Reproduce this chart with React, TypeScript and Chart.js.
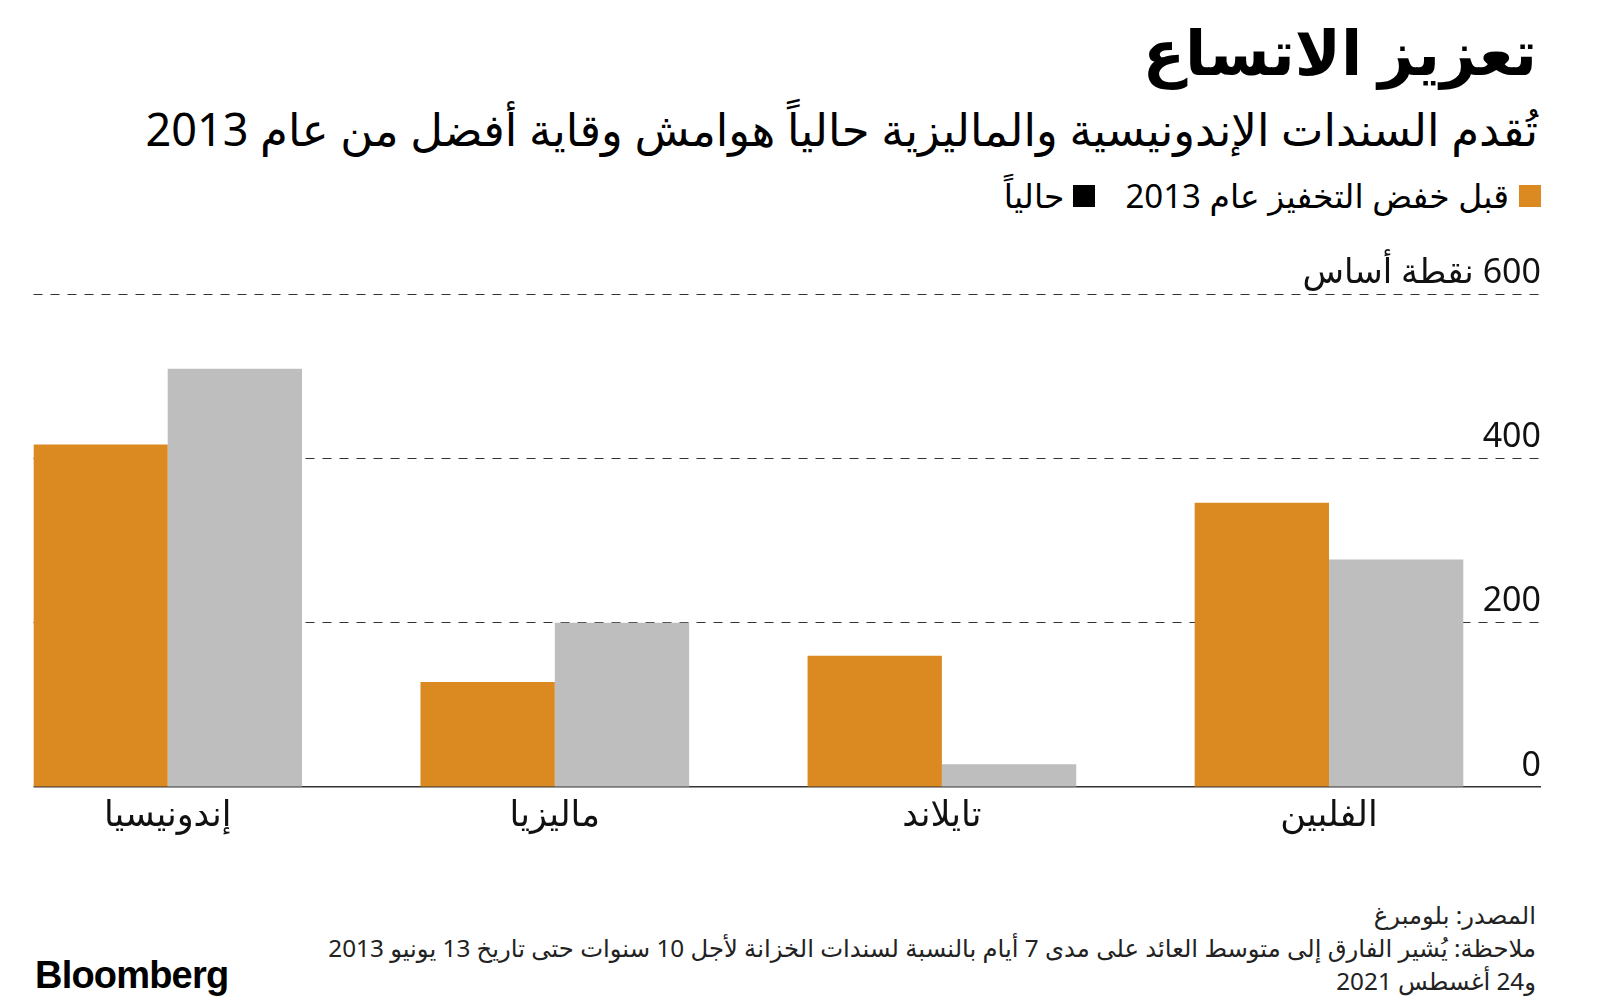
import React, { useEffect, useRef } from "react";
import { Chart, registerables } from "chart.js";

Chart.register(...registerables);

const categories = ["إندونيسيا", "ماليزيا", "تايلاند", "الفلبين"];
const before2013 = [417, 128, 160, 346];
const current = [509, 200, 28, 277];
const yTicks = [0, 200, 400, 600];
const yUnitLabel = "نقطة أساس";
const seriesLabels = ["قبل خفض التخفيز عام 2013", "حالياً"];
const title = "تعزيز الاتساع";
const subtitle = "تُقدم السندات الإندونيسية والماليزية حالياً هوامش وقاية أفضل من عام 2013";
const sourceText = "المصدر: بلومبرغ";
const noteLines = [
  "ملاحظة: يُشير الفارق إلى متوسط العائد على مدى 7 أيام بالنسبة لسندات الخزانة لأجل 10 سنوات حتى تاريخ 13 يونيو 2013",
  "و24 أغسطس 2021",
];

const ORANGE = "#DB8A22";
const GRAY = "#BEBEBE";
const FONT = "'Noto Sans', 'DejaVu Sans', sans-serif";

export default function App() {
  const ref = useRef<HTMLCanvasElement>(null);

  useEffect(() => {
    const canvas = ref.current;
    if (!canvas) return;
    const chart = new Chart(canvas, {
      type: "bar",
      data: {
        datasets: [
          {
            label: seriesLabels[0],
            data: before2013.map((v, i) => ({ x: i, y: v })),
            backgroundColor: ORANGE,
            categoryPercentage: 0.694,
            barPercentage: 1.0,
            borderWidth: 0,
          },
          {
            label: seriesLabels[1],
            data: current.map((v, i) => ({ x: i, y: v })),
            backgroundColor: GRAY,
            categoryPercentage: 0.694,
            barPercentage: 1.0,
            borderWidth: 0,
          },
        ],
      },
      options: {
        animation: false,
        responsive: false,
        maintainAspectRatio: false,
        layout: { padding: { left: 33.5, right: 59, top: 54, bottom: 10.8 } },
        plugins: { legend: { display: false }, tooltip: { enabled: false } },
        scales: {
          x: {
            type: "linear",
            min: -0.3467,
            max: 3.5477,
            offset: false,
            grid: { display: false, offset: false },
            border: { display: false },
            afterBuildTicks: (s: any) => {
              s.ticks = categories.map((_, i) => ({ value: i }));
            },
            ticks: {
              autoSkip: false,
              maxRotation: 0,
              minRotation: 0,
              padding: 0,
              color: "#111",
              font: { family: FONT, size: 35 },
              callback: (v: any) => categories[v] ?? "",
            },
          },
          y: {
            position: "right",
            min: 0,
            max: 600,
            afterBuildTicks: (s: any) => {
              s.ticks = yTicks.map((v) => ({ value: v }));
            },
            grid: {
              color: "#333",
              lineWidth: (ctx: any) => (ctx.tick && ctx.tick.value === 0 ? 1.5 : 1),
              drawTicks: false,
            },
            border: {
              display: false,
              dash: (ctx: any) => (ctx.tick && ctx.tick.value === 0 ? [] : [9, 8]),
            },
            ticks: {
              mirror: true,
              padding: 0,
              labelOffset: -21,
              color: "#111",
              font: { family: FONT, size: 34 },
              callback: (v: any) => (v === 600 ? `${v} ${yUnitLabel}` : `${v}`),
            },
          },
        },
      },
    } as any);
    return () => chart.destroy();
  }, []);

  return (
    <div
      style={{
        position: "fixed",
        left: 0,
        top: 0,
        width: 1600,
        height: 1004,
        background: "#fff",
        overflow: "hidden",
        fontFamily: FONT,
        color: "#000",
      }}
    >
      <div
        dir="rtl"
        style={{ position: "absolute", right: 63, top: 14, fontSize: 62, fontWeight: 700, lineHeight: 1.2, whiteSpace: "nowrap" }}
      >
        {title}
      </div>
      <div
        dir="rtl"
        style={{ position: "absolute", right: 62, top: 102, fontSize: 45, lineHeight: 1.2, whiteSpace: "nowrap" }}
      >
        {subtitle}
      </div>
      <div
        dir="rtl"
        style={{
          position: "absolute",
          right: 59,
          top: 176,
          display: "flex",
          alignItems: "center",
          fontSize: 33,
          lineHeight: 1.2,
          whiteSpace: "nowrap",
        }}
      >
        <span style={{ width: 22, height: 22, background: ORANGE, display: "inline-block", marginLeft: 10 }} />
        <span style={{ marginLeft: 30 }}>{seriesLabels[0]}</span>
        <span style={{ width: 22, height: 22, background: "#000", display: "inline-block", marginLeft: 9 }} />
        <span>{seriesLabels[1]}</span>
      </div>
      <canvas
        ref={ref}
        dir="rtl"
        width={1600}
        height={608}
        style={{ position: "absolute", left: 0, top: 240, width: 1600, height: 608 }}
      />
      <div
        dir="rtl"
        style={{ position: "absolute", right: 64, top: 898, fontSize: 24.3, lineHeight: "33px", color: "#222", textAlign: "right" }}
      >
        <div>{sourceText}</div>
        {noteLines.map((l, i) => (
          <div key={i}>{l}</div>
        ))}
      </div>
      <div
        style={{
          position: "absolute",
          left: 35,
          top: 954,
          fontFamily: "'Liberation Sans', Arial, sans-serif",
          fontWeight: 700,
          fontSize: 38,
          letterSpacing: -0.8,
          color: "#000",
        }}
      >
        Bloomberg
      </div>
    </div>
  );
}
